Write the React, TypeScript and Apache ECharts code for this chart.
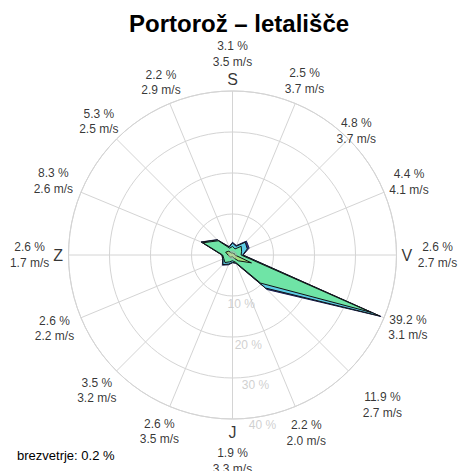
import React, { useEffect, useRef } from "react";
import * as echarts from "echarts";

// 16 wind directions, clockwise from north (S = sever at top)
const directions = ["N", "NNE", "NE", "ENE", "E", "ESE", "SE", "SSE", "S", "SSW", "SW", "WSW", "W", "WNW", "NW", "NNW"];
const dirAngles = [0, 22.5, 45, 67.5, 90, 112.5, 135, 157.5, 180, 202.5, 225, 247.5, 270, 292.5, 315, 337.5];

// frequency (%) and mean speed (m/s) per direction
const totalPct = [3.1, 2.5, 4.8, 4.4, 2.6, 39.2, 11.9, 2.2, 1.9, 2.6, 3.5, 2.6, 2.6, 8.3, 5.3, 2.2];
const meanSpeed = [3.5, 3.7, 3.7, 4.1, 2.7, 3.1, 2.7, 2.0, 3.3, 3.5, 3.2, 2.2, 1.7, 2.6, 2.5, 2.9];

// speed classes (% per direction), lowest to highest
const class1 = [0.5, 0.4, 0.6, 0.5, 0.6, 5.0, 2.0, 0.8, 0.4, 0.5, 0.7, 0.8, 1.1, 1.8, 1.3, 0.5];
const class2 = [1.6, 1.2, 2.4, 1.9, 1.5, 31.5, 7.7, 1.1, 1.0, 1.3, 1.9, 1.5, 1.3, 6.0, 3.6, 1.3];
const class3 = [0.8, 0.7, 1.4, 1.5, 0.4, 2.3, 1.7, 0.2, 0.4, 0.6, 0.7, 0.2, 0.15, 0.4, 0.3, 0.3];
const class4 = [0.2, 0.2, 0.4, 0.5, 0.1, 0.4, 0.5, 0.1, 0.1, 0.2, 0.2, 0.1, 0.05, 0.1, 0.1, 0.1];

const cardinalLetters = ["S", "V", "J", "Z"];
const cardinalAngles = [0, 90, 180, 270];
const radialTicks = [10, 20, 30, 40];
const calmPct = 0.2;
const title = "Portorož – letališče";

// layout constants (label radius in data units per direction)
const labelRadius = [49, 45.9, 42.7, 46.6, 50, 46.3, 51.7, 47, 50.2, 46.6, 46.8, 47, 49.5, 47.3, 46.1, 45.6];
const letterRadius = [42.7, 42.5, 43.4, 42.5];
const classColors = ["#a6e07c", "#6fe4a6", "#5ccbe6", "#2f3a8a"];
const FONT = "'Liberation Sans', Arial, sans-serif";

function cumulative(upTo: number): number[] {
  const classes = [class1, class2, class3, class4];
  return directions.map((_, i) => {
    let s = 0;
    for (let k = 0; k <= upTo; k++) s += classes[k][i];
    return Math.round(s * 100) / 100;
  });
}

function closedRing(values: number[]) {
  const pts = values.map((v, i) => [v, dirAngles[i]]);
  pts.push([values[0], 360]);
  return pts;
}

export default function App() {
  const ref = useRef<HTMLDivElement>(null);
  useEffect(() => {
    document.body.style.margin = "0";
    const chart = echarts.init(ref.current!, null, { renderer: "svg" });

    const layers = [3, 2, 1, 0].map((k) => ({
      type: "line",
      coordinateSystem: "polar",
      data: closedRing(cumulative(k)),
      showSymbol: false,
      symbol: "none",
      silent: true,
      lineStyle: { color: k === 3 ? "#1a1f50" : "#111", width: 1 },
      areaStyle: { color: classColors[k], opacity: 1 },
      z: 2 + (3 - k),
    }));

    const option: any = {
      animation: false,
      title: {
        text: title,
        left: 124,
        top: 6,
        textStyle: { fontFamily: FONT, fontSize: 24, fontWeight: "bold", color: "#000" },
      },
      polar: { center: [232.5, 255], radius: 164 },
      angleAxis: {
        type: "value",
        min: 0,
        max: 360,
        interval: 22.5,
        startAngle: 90,
        clockwise: true,
        axisLine: { show: true, lineStyle: { color: "#d4d4d4", width: 1 } },
        axisTick: { show: false },
        axisLabel: { show: false },
        splitLine: { show: true, lineStyle: { color: "#d4d4d4", width: 1 } },
      },
      radiusAxis: {
        type: "value",
        min: 0,
        max: 40,
        interval: 10,
        axisLine: { show: false },
        axisTick: { show: false },
        axisLabel: { show: false },
        splitLine: { show: true, lineStyle: { color: "#d4d4d4", width: 1 } },
      },
      graphic: [
        {
          type: "text",
          left: 17,
          top: 449,
          style: { text: `brezvetrje: ${calmPct.toFixed(1)} %`, fontFamily: FONT, fontSize: 13, fill: "#000" },
        },
      ],
      series: [
        ...layers,
        {
          type: "scatter",
          coordinateSystem: "polar",
          silent: true,
          clip: false,
          symbolSize: 8,
          z: 10,
          itemStyle: { color: "rgba(190,200,190,0.55)", borderColor: "#9a9a9a", borderWidth: 0.6 },
          data: [[0, 0]],
        },
        {
          type: "scatter",
          coordinateSystem: "polar",
          silent: true,
          clip: false,
          symbolSize: 1,
          z: 11,
          itemStyle: { color: "transparent" },
          label: {
            show: true,
            position: "inside",
            align: "center",
            verticalAlign: "middle",
            fontFamily: FONT,
            fontSize: 12,
            lineHeight: 15.5,
            color: "#000",
            formatter: (p: any) => `${totalPct[p.dataIndex].toFixed(1)} %\n${meanSpeed[p.dataIndex].toFixed(1)} m/s`,
          },
          data: directions.map((_, i) => [labelRadius[i], dirAngles[i]]),
        },
        {
          type: "scatter",
          coordinateSystem: "polar",
          silent: true,
          clip: false,
          symbolSize: 1,
          z: 11,
          itemStyle: { color: "transparent" },
          label: {
            show: true,
            position: "inside",
            align: "center",
            verticalAlign: "middle",
            fontFamily: FONT,
            fontSize: 16,
            color: "#000",
            formatter: (p: any) => cardinalLetters[p.dataIndex],
          },
          data: cardinalAngles.map((a, i) => [letterRadius[i], a]),
        },
        {
          type: "scatter",
          coordinateSystem: "polar",
          silent: true,
          clip: false,
          symbolSize: 1,
          z: 11,
          itemStyle: { color: "transparent" },
          label: {
            show: true,
            position: "inside",
            align: "center",
            verticalAlign: "middle",
            fontFamily: FONT,
            fontSize: 12,
            color: "#c4c4c4",
            formatter: (p: any) => `${radialTicks[p.dataIndex]} %`,
          },
          data: radialTicks.map((t) => [t + 2.2, 170]),
        },
      ],
    };
    chart.setOption(option);
    return () => chart.dispose();
  }, []);
  return <div ref={ref} style={{ width: 459, height: 471 }} />;
}
